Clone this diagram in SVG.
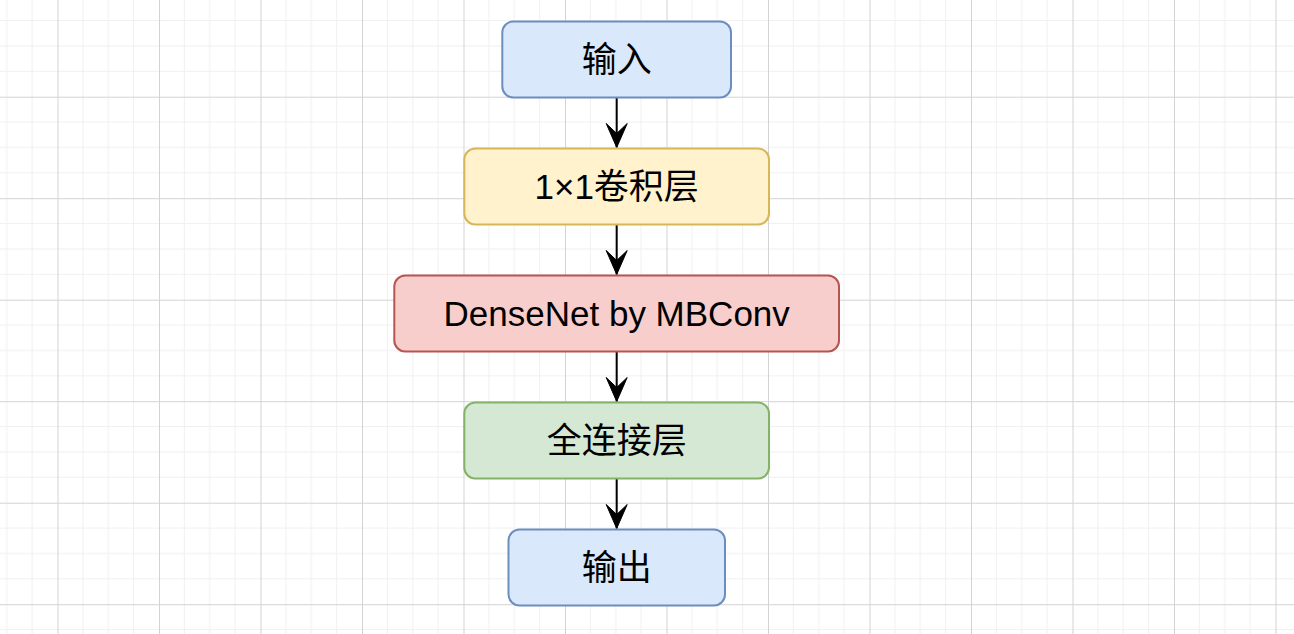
<svg xmlns="http://www.w3.org/2000/svg" width="1294" height="634" viewBox="0 0 1294 634">
  <defs>
    <pattern id="grid" x="-44" y="-4.8" width="101.5" height="101.5" patternUnits="userSpaceOnUse">
      <path d="M25.375 0V101.5M50.75 0V101.5M76.125 0V101.5M0 25.375H101.5M0 50.75H101.5M0 76.125H101.5" stroke="#f0f0f0" stroke-width="1" fill="none"/>
      <path d="M0.5 0V101.5M0 0.5H101.5" stroke="#d3d3d3" stroke-width="1" fill="none"/>
    </pattern>
    <marker id="arrow" viewBox="0 0 26 24" refX="25" refY="12" markerWidth="26" markerHeight="24" markerUnits="userSpaceOnUse" orient="auto">
      <path d="M1 1.5 L11 12 L1 22.5 L25 12 Z" fill="#000" stroke="#000" stroke-width="1" stroke-linejoin="miter"/>
    </marker>
    <style>
      .node rect { stroke-width: 2; }
      .blue { fill: #dae8fc; stroke: #6c8ebf; }
      .yellow { fill: #fff2cc; stroke: #d6b656; }
      .red { fill: #f8cecc; stroke: #b85450; }
      .green { fill: #d5e8d4; stroke: #82b366; }
      .label { font-family: "Liberation Sans", "Noto Sans CJK SC", sans-serif; font-size: 35px; fill: #000; text-anchor: middle; }
      .edge { stroke: #000; stroke-width: 2; fill: none; }
    </style>
  </defs>
  <rect x="0" y="0" width="1294" height="634" fill="#ffffff"/>
  <rect x="0" y="0" width="1294" height="634" fill="url(#grid)"/>

  <g id="connectors">
    <path class="edge" d="M616.7 98V147.5" marker-end="url(#arrow)"/>
    <path class="edge" d="M616.7 225V274.5" marker-end="url(#arrow)"/>
    <path class="edge" d="M616.7 352V401.5" marker-end="url(#arrow)"/>
    <path class="edge" d="M616.7 479V528.5" marker-end="url(#arrow)"/>
  </g>

  <g id="node-input" class="node">
    <rect class="blue" x="502.3" y="21.5" width="228.7" height="76" rx="11" ry="11"/>
    <text class="label" x="616.7" y="72">输入</text>
  </g>
  <g id="node-conv" class="node">
    <rect class="yellow" x="464.3" y="148.5" width="304.7" height="76" rx="11" ry="11"/>
    <text class="label" x="616.7" y="199">1×1卷积层</text>
  </g>
  <g id="node-densenet" class="node">
    <rect class="red" x="394.3" y="275.5" width="444.7" height="76" rx="11" ry="11"/>
    <text class="label" x="616.7" y="325.5">DenseNet by MBConv</text>
  </g>
  <g id="node-fc" class="node">
    <rect class="green" x="464.3" y="402.5" width="304.7" height="76" rx="11" ry="11"/>
    <text class="label" x="616.7" y="453">全连接层</text>
  </g>
  <g id="node-output" class="node">
    <rect class="blue" x="508.5" y="529.5" width="216.5" height="76" rx="11" ry="11"/>
    <text class="label" x="616.7" y="580">输出</text>
  </g>
</svg>
